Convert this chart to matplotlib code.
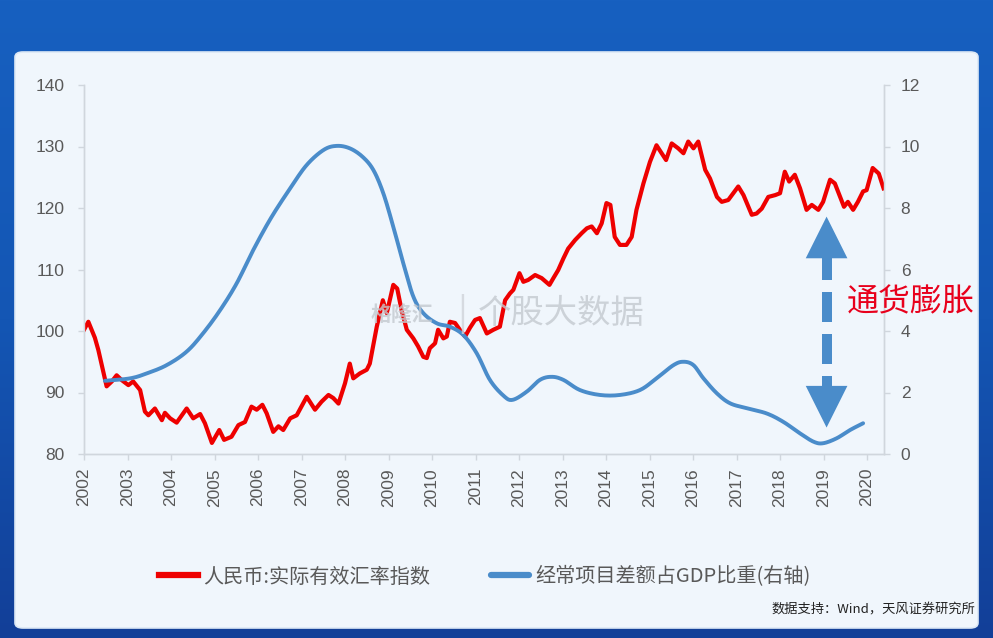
import numpy as np
import matplotlib
matplotlib.use("Agg")
import matplotlib.pyplot as plt
from matplotlib.patches import FancyBboxPatch
from matplotlib.colors import LinearSegmentedColormap

plt.rcParams['font.family'] = ['Noto Sans CJK SC', 'DejaVu Sans']

# ---- data ----
reer_t = [2002.0, 2002.1, 2002.25, 2002.33, 2002.52, 2002.64, 2002.75, 2002.87, 2003.02, 2003.13,
          2003.29, 2003.40, 2003.48, 2003.63, 2003.79, 2003.86, 2003.98, 2004.13, 2004.36, 2004.51,
          2004.67, 2004.78, 2004.94, 2005.11, 2005.22, 2005.39, 2005.55, 2005.70, 2005.85, 2005.97,
          2006.10, 2006.20, 2006.35, 2006.47, 2006.58, 2006.74, 2006.89, 2007.12, 2007.31, 2007.46,
          2007.62, 2007.73, 2007.85, 2008.0, 2008.11, 2008.19, 2008.34, 2008.50, 2008.57, 2008.73,
          2008.87, 2008.96, 2009.11, 2009.20, 2009.30, 2009.42, 2009.57, 2009.68, 2009.80, 2009.88,
          2009.95, 2010.07, 2010.14, 2010.26, 2010.34, 2010.41, 2010.53, 2010.64, 2010.76, 2010.87,
          2010.99, 2011.10, 2011.26, 2011.41, 2011.56, 2011.68, 2011.79, 2011.87, 2012.01, 2012.10,
          2012.21, 2012.37, 2012.52, 2012.70, 2012.79, 2012.90, 2013.02, 2013.13, 2013.29, 2013.44,
          2013.56, 2013.67, 2013.79, 2013.90, 2014.01, 2014.10, 2014.20, 2014.32, 2014.47, 2014.59,
          2014.70, 2014.86, 2015.01, 2015.16, 2015.28, 2015.38, 2015.51, 2015.66, 2015.78, 2015.89,
          2016.01, 2016.12, 2016.28, 2016.39, 2016.55, 2016.66, 2016.81, 2017.04, 2017.16, 2017.35,
          2017.46, 2017.58, 2017.73, 2017.89, 2018.00, 2018.11, 2018.21, 2018.34, 2018.46, 2018.61,
          2018.73, 2018.88, 2018.99, 2019.15, 2019.26, 2019.38, 2019.47, 2019.56, 2019.68, 2019.79,
          2019.91, 2019.99, 2020.13, 2020.27, 2020.38]
reer_v = [100.2, 101.5, 98.9, 96.9, 91.0, 91.8, 92.8, 92.0, 91.2, 91.8,
          90.4, 86.9, 86.3, 87.4, 85.5, 86.7, 85.8, 85.1, 87.4, 85.8,
          86.5, 85.0, 81.8, 83.9, 82.3, 82.8, 84.7, 85.2, 87.7, 87.2,
          88.0, 86.6, 83.6, 84.5, 83.9, 85.8, 86.3, 89.3, 87.2, 88.5,
          89.6, 89.1, 88.2, 91.5, 94.7, 92.3, 93.1, 93.7, 94.7, 100.7,
          105.0, 102.9, 107.5, 106.9, 103.4, 100.2, 98.8, 97.5, 95.8, 95.6,
          97.2, 98.0, 100.2, 98.8, 99.1, 101.5, 101.3, 100.2, 99.1, 100.5,
          101.8, 102.1, 99.6, 100.2, 100.7, 105.0, 106.1, 106.7, 109.4, 108.0,
          108.3, 109.1, 108.6, 107.5, 108.6, 109.9, 111.8, 113.4, 114.8, 115.9,
          116.7, 117.0, 115.9, 117.5, 120.8, 120.5, 115.3, 114.0, 114.0, 115.3,
          119.7, 124.0, 127.5, 130.2, 128.9, 127.8, 130.5, 129.7, 128.9, 130.8,
          129.7, 130.8, 126.2, 124.8, 121.8, 121.0, 121.3, 123.5, 122.1, 118.9,
          119.1, 119.9, 121.8, 122.1, 122.4, 125.9, 124.3, 125.4, 123.2, 119.7,
          120.5, 119.7, 121.0, 124.6, 124.0, 121.8, 120.2, 121.0, 119.7, 121.0,
          122.7, 122.9, 126.5, 125.6, 123.2]

ca_t = [2002.48, 2003.06, 2003.44, 2003.90, 2004.36, 2004.74, 2005.13, 2005.51, 2005.89, 2006.30,
        2006.74, 2007.12, 2007.51, 2007.81, 2008.11, 2008.40, 2008.65, 2008.88, 2009.11, 2009.34,
        2009.57, 2009.80, 2010.11, 2010.41, 2010.72, 2011.03, 2011.33, 2011.64, 2011.85, 2012.18,
        2012.48, 2012.75, 2013.02, 2013.40, 2013.86, 2014.32, 2014.78, 2015.16, 2015.55, 2015.78,
        2016.01, 2016.24, 2016.55, 2016.85, 2017.23, 2017.69, 2018.07, 2018.46, 2018.77, 2018.99,
        2019.30, 2019.61, 2019.91]
ca_v = [2.38, 2.46, 2.62, 2.89, 3.33, 3.93, 4.68, 5.55, 6.63, 7.68,
        8.64, 9.40, 9.89, 10.02, 9.94, 9.67, 9.24, 8.48, 7.39, 6.20,
        5.12, 4.58, 4.25, 4.14, 3.87, 3.27, 2.41, 1.90, 1.76, 2.03,
        2.41, 2.51, 2.41, 2.08, 1.92, 1.92, 2.08, 2.46, 2.89, 3.00,
        2.89, 2.46, 1.97, 1.65, 1.49, 1.32, 1.05, 0.67, 0.40, 0.35,
        0.51, 0.78, 1.00]

years = list(range(2002, 2021))
left_ticks = [80, 90, 100, 110, 120, 130, 140]
right_ticks = [0, 2, 4, 6, 8, 10, 12]
label_red = "人民币:实际有效汇率指数"
label_blue = "经常项目差额占GDP比重(右轴)"
annot_text = "通货膨胀"
arrow_x = 2019.07
arrow_range = [84.3, 118.6]
source_text = "数据支持：Wind，天风证券研究所"
wm_small = "格隆汇"
wm_big = "个股大数据"


def smooth_render(x, y, n=12):
    """Catmull-Rom rendering (like a spreadsheet 'smoothed line') through the given points."""
    x = np.asarray(x, float)
    y = np.asarray(y, float)
    px = np.concatenate([[2 * x[0] - x[1]], x, [2 * x[-1] - x[-2]]])
    py = np.concatenate([[2 * y[0] - y[1]], y, [2 * y[-1] - y[-2]]])
    ox, oy = [], []
    s = np.linspace(0, 1, n, endpoint=False)
    for i in range(1, len(px) - 2):
        for arr, out in ((px, ox), (py, oy)):
            p0, p1, p2, p3 = arr[i - 1], arr[i], arr[i + 1], arr[i + 2]
            out.extend(0.5 * ((2 * p1) + (-p0 + p2) * s + (2 * p0 - 5 * p1 + 4 * p2 - p3) * s ** 2
                              + (-p0 + 3 * p1 - 3 * p2 + p3) * s ** 3))
    ox.append(x[-1])
    oy.append(y[-1])
    return ox, oy


# ---- figure ----
W, H = 993, 638
fig = plt.figure(figsize=(W / 100, H / 100), dpi=100)

bg = fig.add_axes([0, 0, 1, 1], zorder=-10)
grad = np.linspace(0, 1, 256).reshape(-1, 1)
cmap = LinearSegmentedColormap.from_list("bgc", ["#1760c0", "#1456b4", "#123f98"])
bg.imshow(grad, aspect='auto', cmap=cmap, extent=[0, 1, 0, 1], origin='upper')
bg.set_xlim(0, 1)
bg.set_ylim(0, 1)
bg.axis('off')
panel = FancyBboxPatch((15 / W, (H - 628) / H), (978 - 15) / W, (628 - 52) / H,
                       boxstyle="round,pad=0,rounding_size=0.008",
                       transform=bg.transAxes, facecolor="#f0f6fc", edgecolor="#dce8f5",
                       linewidth=1.2, zorder=1)
bg.add_patch(panel)

ax = fig.add_axes([84 / W, (H - 454) / H, 800 / W, 369 / H])
ax.set_facecolor("none")
ax2 = ax.twinx()

grey = "#595959"
spine_c = "#d0d6dd"

l1, = ax.plot(reer_t, reer_v, color="#ee0000", lw=3.0, solid_joinstyle='round', zorder=3,
              label=label_red)
sx, sy = smooth_render(ca_t, ca_v)
l2, = ax2.plot(sx, sy, color="#4a8cca", lw=2.8, solid_capstyle='round', zorder=2,
               label=label_blue)

ax.set_xlim(2002, 2020.39)
ax.set_ylim(80, 140)
ax2.set_ylim(0, 12)
ax.set_yticks(left_ticks)
ax2.set_yticks(right_ticks)
ax.set_xticks(years)
ax.set_xticklabels([str(y) for y in years], rotation=90, family='Liberation Sans')
for a in (ax, ax2):
    for s in a.spines.values():
        s.set_color(spine_c)
        s.set_linewidth(1.0)
    a.spines['top'].set_visible(False)
ax.tick_params(axis='both', colors=spine_c, labelcolor=grey, labelsize=12.5, length=4, width=1)
ax.tick_params(axis='x', pad=6)
ax.tick_params(axis='y', pad=10)
ax2.tick_params(axis='y', colors=spine_c, labelcolor=grey, labelsize=12.5, length=4, width=1, pad=8)
for lab in ax.get_yticklabels() + ax2.get_yticklabels():
    lab.set_family('Liberation Sans')

# dashed double arrow
ln, = ax.plot([arrow_x, arrow_x], [arrow_range[0] + 3.5, arrow_range[1] - 3.5],
              color="#4a8cca", lw=7.2, solid_capstyle='butt', zorder=4)
ln.set_linestyle((0, (3.0, 1.2)))
ln.set_dash_capstyle('butt')
for tip, back in ((arrow_range[1], arrow_range[1] - 4.5), (arrow_range[0], arrow_range[0] + 4.5)):
    ax.annotate('', xy=(arrow_x, tip), xytext=(arrow_x, back),
                arrowprops=dict(arrowstyle='-|>,head_length=1.5,head_width=0.75', color="#4a8cca",
                                lw=0, mutation_scale=20, shrinkA=0, shrinkB=0), zorder=5)

fig.text(911 / W, 1 - 302 / H, annot_text, color="#e8001c", fontsize=23, ha='center', va='center',
         zorder=20)

# watermark
fig.text(402 / W, 1 - 314 / H, wm_small, color="#c4c9cf", fontsize=15, ha='center', va='center',
         alpha=0.8, zorder=0.5, fontweight='bold')
fig.text(462 / W, 1 - 314 / H, "|", color="#d0d4d9", fontsize=26, ha='center', va='center',
         alpha=0.8, zorder=0.5)
fig.text(561 / W, 1 - 314 / H, wm_big, color="#c4c9cf", fontsize=24, ha='center', va='center',
         alpha=0.8, zorder=0.5)

# legend
leg = fig.legend(handles=[l1, l2], loc='center', bbox_to_anchor=(485 / W, 1 - 577 / H), ncol=2,
                 frameon=False, fontsize=14.5, handlelength=1.9, handletextpad=0.3, columnspacing=3.0,
                 labelcolor=grey)
for h in leg.legend_handles:
    h.set_linewidth(4.5)

fig.text(975 / W, 1 - 609 / H, source_text, color="#222222", fontsize=9.5, ha='right', va='center')

fig.savefig("out.png", dpi=100)
